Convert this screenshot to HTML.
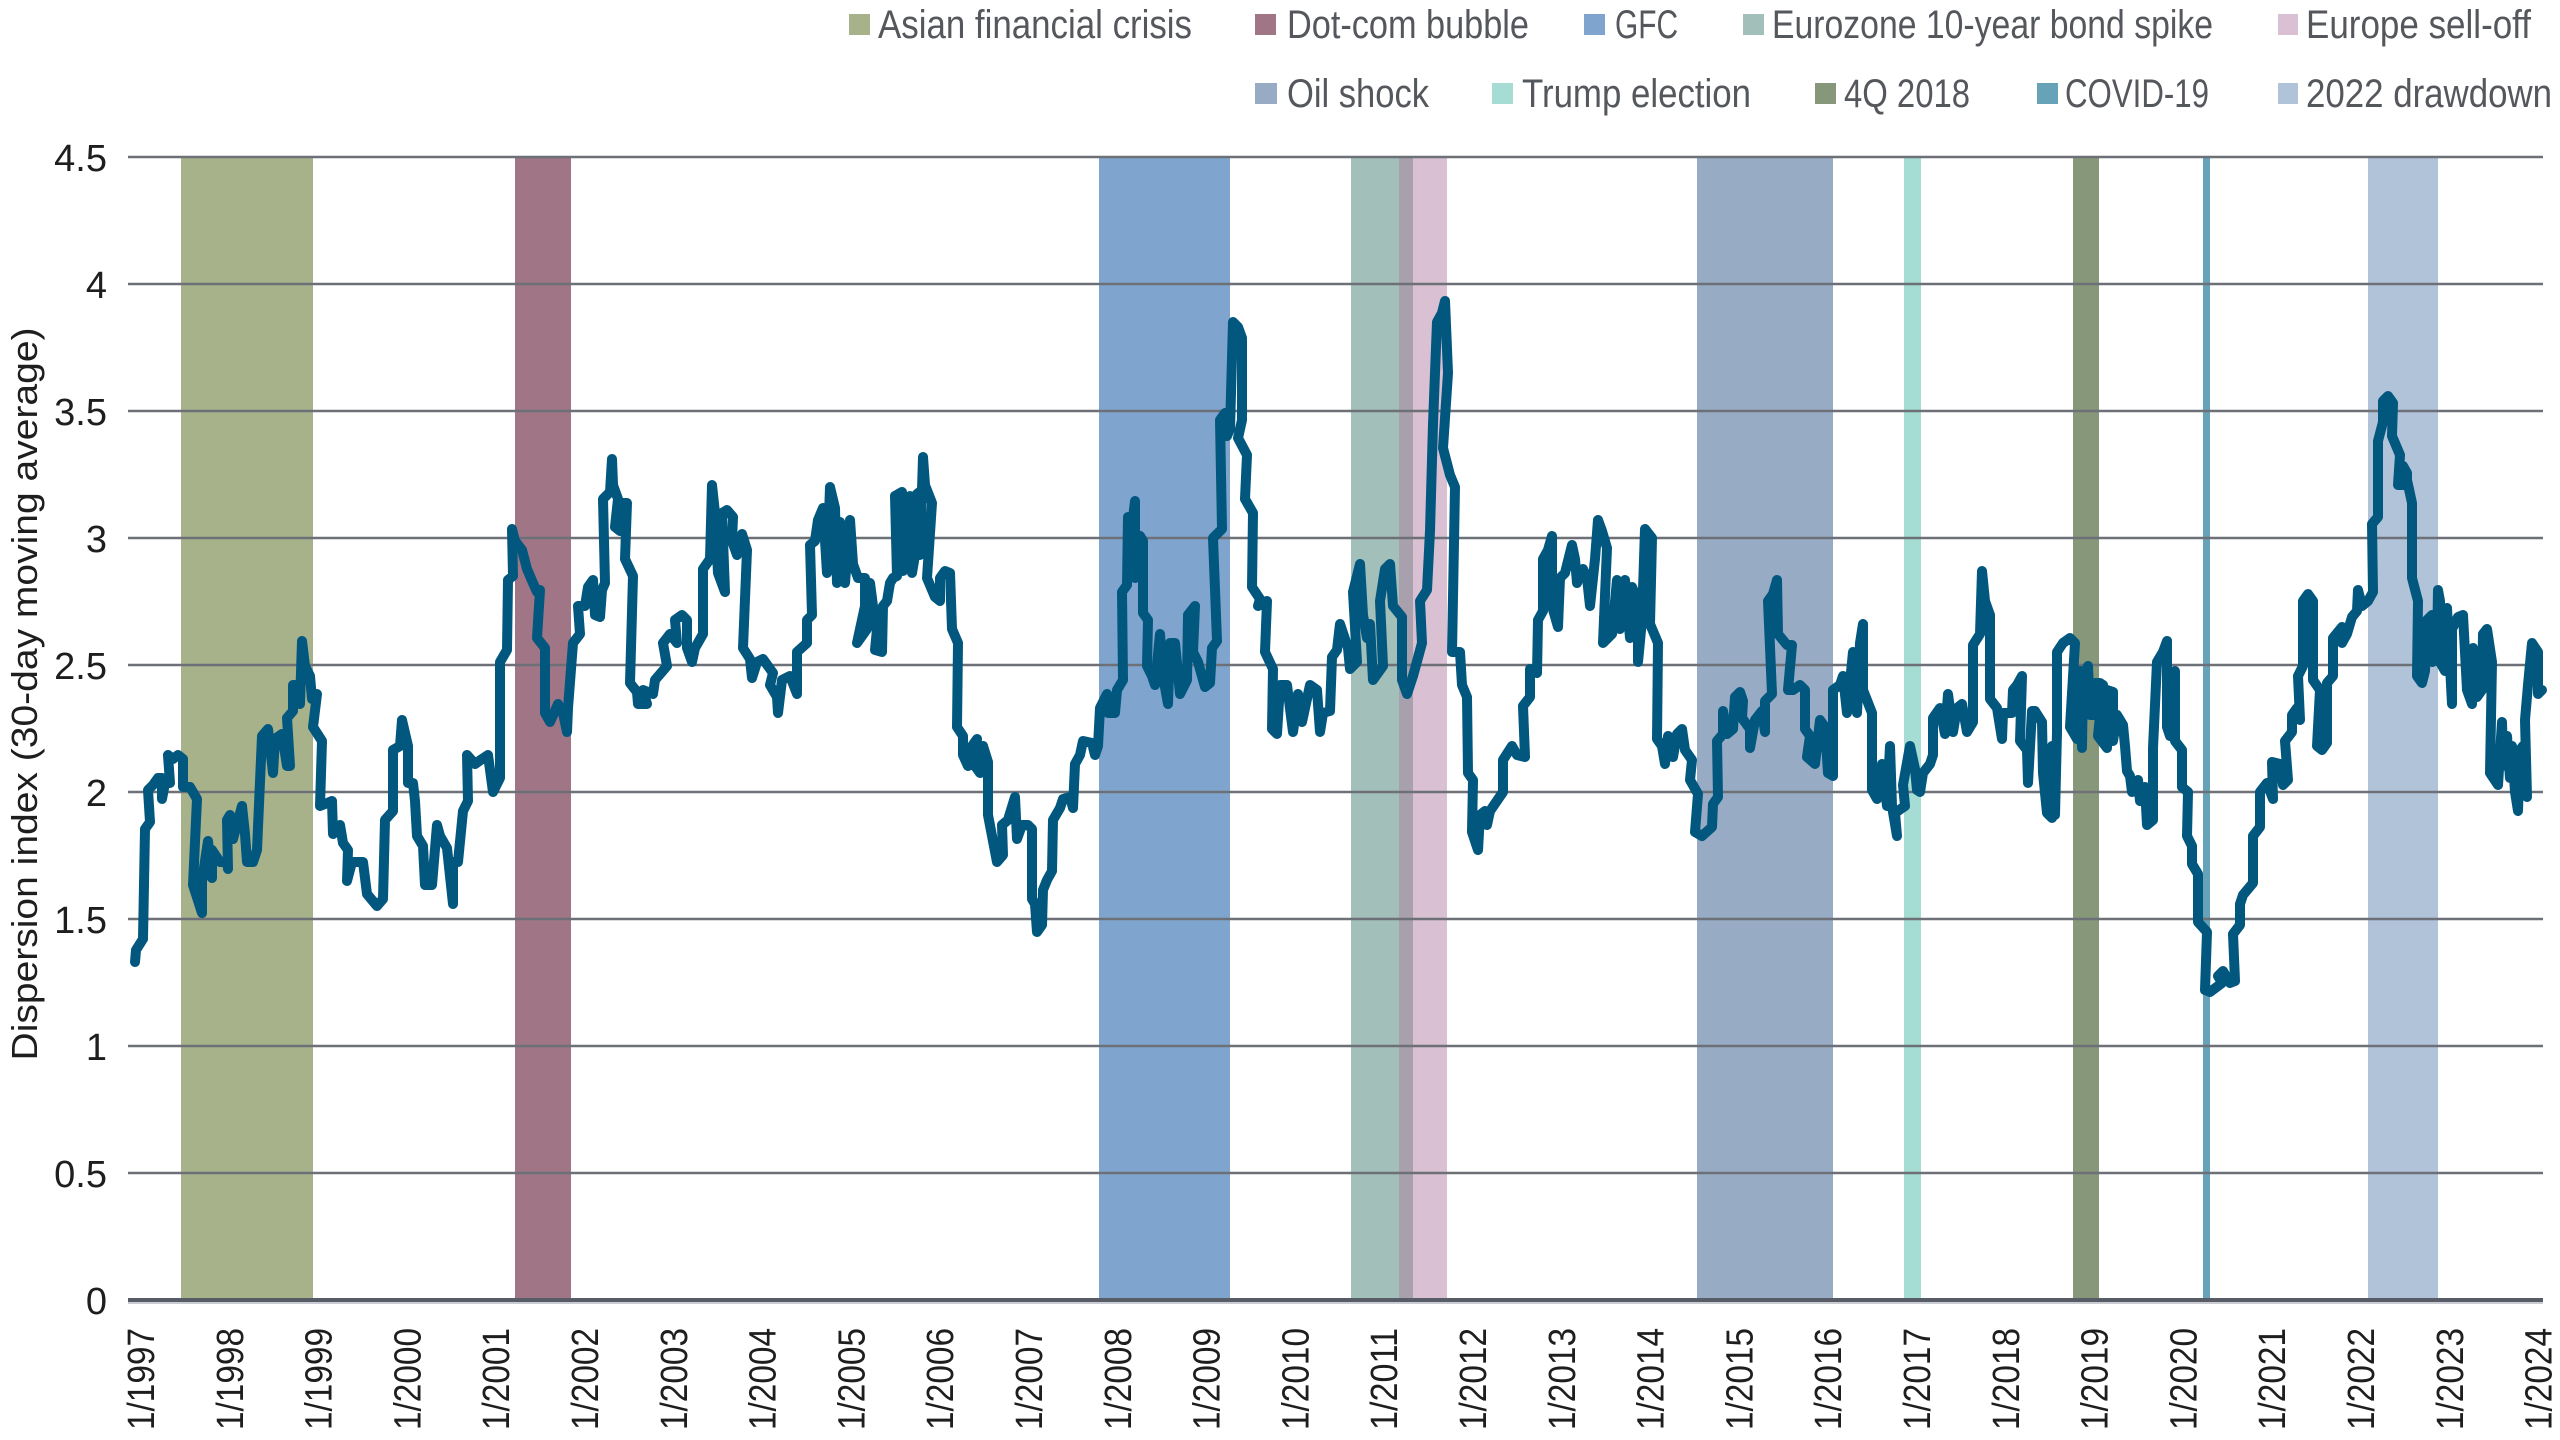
<!DOCTYPE html>
<html>
<head>
<meta charset="utf-8">
<style>
  html, body { margin: 0; padding: 0; background: #ffffff; }
  body { width: 2560px; height: 1440px; overflow: hidden; }
  svg { display: block; }
  .leg { font-family: "Liberation Sans Narrow", "Liberation Sans", sans-serif; font-size: 40px; fill: #54575c; }
  .tick { font-family: "Liberation Sans", sans-serif; font-size: 38px; fill: #1e1e1e; }
  .ttl { font-family: "Liberation Sans Narrow", "Liberation Sans", sans-serif; font-size: 36px; fill: #1e1e1e; }
</style>
</head>
<body>
<svg width="2560" height="1440" viewBox="0 0 2560 1440" xmlns="http://www.w3.org/2000/svg">
  <rect x="0" y="0" width="2560" height="1440" fill="#ffffff"/>

  <!-- Event bands -->
  <rect x="181" y="157" width="132" height="1143" fill="#a7b28b"/>
  <rect x="515" y="157" width="56" height="1143" fill="#a07686"/>
  <rect x="1099" y="157" width="131" height="1143" fill="#7fa5cf"/>
  <rect x="1351" y="157" width="48" height="1143" fill="#a2bfb9"/>
  <rect x="1399" y="157" width="14" height="1143" fill="#a8a1ad"/>
  <rect x="1413" y="157" width="34" height="1143" fill="#d9c0d3"/>
  <rect x="1697" y="157" width="136" height="1143" fill="#97abc5"/>
  <rect x="1904" y="157" width="17" height="1143" fill="#a5dcd3"/>
  <rect x="2073" y="157" width="26" height="1143" fill="#87987a"/>
  <rect x="2203" y="157" width="7" height="1143" fill="#66a3b8"/>
  <rect x="2368" y="157" width="70" height="1143" fill="#b0c3d9"/>

  <!-- Gridlines -->
  <g stroke="#6d7077" stroke-width="2.5">
    <line x1="128" y1="157" x2="2543" y2="157"/>
    <line x1="128" y1="284" x2="2543" y2="284"/>
    <line x1="128" y1="411" x2="2543" y2="411"/>
    <line x1="128" y1="538" x2="2543" y2="538"/>
    <line x1="128" y1="665" x2="2543" y2="665"/>
    <line x1="128" y1="792" x2="2543" y2="792"/>
    <line x1="128" y1="919" x2="2543" y2="919"/>
    <line x1="128" y1="1046" x2="2543" y2="1046"/>
    <line x1="128" y1="1173" x2="2543" y2="1173"/>
  </g>
  <line x1="128" y1="1303" x2="2543" y2="1303" stroke="#c9cdd3" stroke-width="2"/>
  <line x1="128" y1="1300" x2="2543" y2="1300" stroke="#575c66" stroke-width="4"/>

  <!-- Data series -->
  <polyline fill="none" stroke="#02577f" stroke-width="10" stroke-linejoin="round" stroke-linecap="round" points="
135,962 136,950 143,939 145,829 150,822 148,790 153,785 158,778 162,778 162,799 165,783 170,783 168,755 173,759 178,755 183,759 183,787 190,787 197,799 193,885 202,913 202,881 208,841 212,878 212,850 220,862 227,862 228,869 227,820 230,815 233,839 242,806 245,834 247,862 253,862 257,850 262,736 268,729 273,773 275,739 282,734 287,766 290,766 287,718 293,711 293,685 298,685 300,704 302,641 305,666 310,676 312,699 317,694 313,727 322,741 320,806 325,804 332,801 333,834 340,825 343,843 348,850 347,881 352,862 363,862 367,894 377,906 383,899 385,820 393,811 393,750 400,746 402,720 408,746 408,783 413,783 415,801 417,836 423,846 425,885 432,885 437,825 440,836 447,848 453,904 453,862 458,862 463,811 468,801 467,755 475,764 482,759 488,755 493,792 500,778 500,662 507,650 508,580 513,576 512,529 515,541 522,550 527,569 533,583 537,592 540,590 537,638 545,648 545,713 550,722 558,704 563,713 567,732 568,708 573,643 580,634 578,606 585,606 588,587 593,580 595,615 600,617 602,590 605,583 603,499 610,492 612,459
613,485 618,499 615,527 620,531 622,503 627,503 625,559 633,576 630,683 637,692 638,704 647,704 643,690 653,694 655,680 667,666 663,643 670,634 677,643 675,620 682,615 687,620 687,648 692,662 695,648 703,634 703,569 710,559 712,485 715,513 718,573 725,592 722,513 727,510 733,517 732,541 737,555 742,534 747,550 743,648 750,659 752,678 757,662 763,659 773,673 770,685 777,697 778,713 782,680 790,676 797,694 797,652 807,643 807,620 812,615 810,545 815,541 818,520 823,508 827,573 830,487 835,508 837,583 840,522 845,583 850,520 853,564 858,578 865,578 865,606 857,643 867,629 870,583 873,606 877,629 875,650 882,652 883,606 887,601 890,583 893,578 897,576 895,496 902,492 903,571 903,503 910,496 912,573 915,555 917,494 922,490 920,555 923,457 925,485 932,503 927,578 935,597 940,601 940,578 945,571 950,573 952,629 958,643 957,727 963,736 963,755 968,766 972,746 977,739 975,766 980,773 983,746 988,762 988,815 997,862 1003,855 1002,825 1008,820 1015,797 1017,839 1022,825 1028,825 1032,829 1032,899 1035,904 1037,932 1042,925 1043,890 1047,880 1052,871 1053,820 1060,808 1063,799 1070,797 1073,808 1075,764 1080,755 1083,741 1092,743
1095,755 1098,746 1100,708 1107,694 1108,713 1115,713 1117,690 1123,680 1122,592 1127,585 1128,517 1132,527 1135,501 1135,578 1140,536 1143,541 1143,613 1148,620 1147,666 1152,676 1155,685 1160,634 1163,676 1168,704 1170,643 1175,643 1180,694 1187,680 1188,615 1195,606 1193,652 1198,662 1205,687 1210,683 1212,648 1217,641 1213,538 1222,529 1220,420 1225,413 1227,436 1230,429 1233,322 1238,327 1242,338 1242,420 1238,438 1247,455 1245,499 1253,513 1252,587 1260,599 1258,606 1267,601 1265,652 1273,669 1272,729 1277,734 1280,685 1287,685 1293,732 1298,694 1302,722 1310,685 1317,690 1320,732 1323,713 1330,711 1332,657 1337,650 1340,624 1348,648 1350,669 1357,662 1353,592 1360,564 1363,615 1367,638 1370,624 1373,680 1383,666 1380,601 1385,569 1390,564 1393,606 1402,617 1402,680 1407,694 1413,676 1422,643 1420,601 1427,590 1430,531 1433,424 1437,322 1442,313 1445,301 1448,373 1443,448 1450,475 1455,487 1452,652 1460,652 1462,685 1467,697 1468,773 1473,780 1472,832 1478,850 1480,815 1485,811 1487,825 1490,811 1503,792 1503,760 1512,746 1517,755 1525,757 1523,706 1530,697 1530,669 1537,673 1538,620 1543,611 1543,559 1548,550 1552,536 1552,606 1558,627 1560,578 1565,573 1572,545
1575,559 1577,583 1583,569 1587,578 1590,606 1595,559 1598,520 1602,531 1607,548 1603,643 1612,634 1617,580 1620,629 1625,580 1630,638 1632,587 1638,601 1638,662 1642,620 1645,529 1652,538 1650,624 1658,643 1657,739 1662,746 1665,764 1668,736 1673,757 1677,734 1682,729 1685,750 1692,760 1690,780 1698,794 1695,832 1702,836 1712,827 1713,804 1718,797 1717,741 1723,734 1723,711 1727,734 1733,729 1735,697 1740,692 1743,701 1742,718 1750,729 1750,748 1755,720 1762,711 1765,732 1765,701 1772,694 1768,601 1773,594 1777,580 1778,634 1787,645 1792,645 1788,690 1793,690 1800,685 1805,690 1805,729 1810,736 1807,757 1815,764 1820,720 1825,727 1828,773 1833,776 1833,690 1840,685 1843,676 1847,713 1853,652 1857,713 1860,643 1863,624 1863,690 1872,713 1872,790 1877,799 1882,764 1887,806 1890,746 1892,806 1897,836 1895,813 1905,806 1903,785 1910,746 1915,769 1917,790 1920,792 1923,773 1930,764 1933,755 1933,718 1940,708 1945,734 1948,694 1953,732 1957,708 1962,704 1967,732 1973,722 1973,645 1980,634 1982,571 1985,601 1990,615 1990,699 1997,708 2002,739 2003,713 2012,713 2013,690 2017,685 2022,676 2020,741 2027,750 2028,783 2032,711 2035,711 2042,722 2043,773 2047,813 2052,818 2052,746
2055,815 2057,732 2057,652 2063,643 2070,638 2075,643 2070,727 2077,739 2080,671 2082,748 2083,676 2088,666 2090,715 2093,715 2095,683 2100,683 2103,685 2098,736 2107,748 2107,690 2113,692 2113,741 2117,715 2123,725 2125,746 2127,771 2130,776 2132,792 2138,780 2140,801 2145,787 2147,825 2153,820 2153,748 2157,662 2163,652 2167,641 2167,727 2170,736 2175,671 2175,741 2182,750 2182,787 2188,792 2187,836 2192,846 2192,864 2198,874 2198,922 2207,932 2205,990 2210,992 2222,983 2218,976 2223,971 2230,983 2235,981 2233,934 2240,925 2240,904 2243,895 2253,883 2253,836 2260,827 2260,792 2267,783 2273,799 2272,762 2280,764 2283,785 2288,780 2285,741 2292,732 2292,715 2297,708 2300,720 2298,676 2303,666 2303,601 2308,594 2313,601 2313,680 2320,690 2317,746 2322,750 2327,743 2327,683 2333,676 2333,638 2342,627 2342,643 2347,634 2352,617 2357,611 2358,590 2362,606 2368,601 2373,592 2372,524 2378,517 2378,441 2383,422 2383,401 2388,396 2393,403 2392,436 2400,455 2398,485 2403,485 2403,466 2407,473 2407,480 2412,503 2412,578 2418,601 2417,676 2422,683 2425,671 2427,620 2432,615 2432,662 2437,652 2438,590 2440,601 2440,662 2445,671 2443,611 2447,608 2452,704 2452,629 2458,617 2463,615 2467,690 2472,704 2473,648 2478,666 2477,697 2482,690 2483,634 2487,629 2492,662 2490,773 2498,785 2502,722 2503,766 2507,736 2510,778 2512,746 2515,792 2518,811 2520,750 2523,746 2527,797 2525,720 2528,685 2532,643 2538,652 2538,694 2542,690"/>

  <!-- Y tick labels -->
  <g class="tick" text-anchor="end">
    <text x="107" y="171">4.5</text>
    <text x="107" y="298">4</text>
    <text x="107" y="425">3.5</text>
    <text x="107" y="552">3</text>
    <text x="107" y="679">2.5</text>
    <text x="107" y="806">2</text>
    <text x="107" y="933">1.5</text>
    <text x="107" y="1060">1</text>
    <text x="107" y="1187">0.5</text>
    <text x="107" y="1314">0</text>
  </g>

  <!-- Y axis title -->
  <text class="ttl" text-anchor="middle" transform="translate(37,694) rotate(-90)" textLength="733" lengthAdjust="spacingAndGlyphs">Dispersion index (30-day moving average)</text>

  <!-- X tick labels -->
  <g class="tick" text-anchor="end">
    <text transform="translate(154,1328) rotate(-90)" textLength="102" lengthAdjust="spacingAndGlyphs">1/1997</text>
    <text transform="translate(242.8,1328) rotate(-90)" textLength="102" lengthAdjust="spacingAndGlyphs">1/1998</text>
    <text transform="translate(331.6,1328) rotate(-90)" textLength="102" lengthAdjust="spacingAndGlyphs">1/1999</text>
    <text transform="translate(420.4,1328) rotate(-90)" textLength="102" lengthAdjust="spacingAndGlyphs">1/2000</text>
    <text transform="translate(509.2,1328) rotate(-90)" textLength="102" lengthAdjust="spacingAndGlyphs">1/2001</text>
    <text transform="translate(598,1328) rotate(-90)" textLength="102" lengthAdjust="spacingAndGlyphs">1/2002</text>
    <text transform="translate(686.8,1328) rotate(-90)" textLength="102" lengthAdjust="spacingAndGlyphs">1/2003</text>
    <text transform="translate(775.6,1328) rotate(-90)" textLength="102" lengthAdjust="spacingAndGlyphs">1/2004</text>
    <text transform="translate(864.4,1328) rotate(-90)" textLength="102" lengthAdjust="spacingAndGlyphs">1/2005</text>
    <text transform="translate(953.2,1328) rotate(-90)" textLength="102" lengthAdjust="spacingAndGlyphs">1/2006</text>
    <text transform="translate(1042,1328) rotate(-90)" textLength="102" lengthAdjust="spacingAndGlyphs">1/2007</text>
    <text transform="translate(1130.8,1328) rotate(-90)" textLength="102" lengthAdjust="spacingAndGlyphs">1/2008</text>
    <text transform="translate(1219.6,1328) rotate(-90)" textLength="102" lengthAdjust="spacingAndGlyphs">1/2009</text>
    <text transform="translate(1308.4,1328) rotate(-90)" textLength="102" lengthAdjust="spacingAndGlyphs">1/2010</text>
    <text transform="translate(1397.2,1328) rotate(-90)" textLength="102" lengthAdjust="spacingAndGlyphs">1/2011</text>
    <text transform="translate(1486,1328) rotate(-90)" textLength="102" lengthAdjust="spacingAndGlyphs">1/2012</text>
    <text transform="translate(1574.8,1328) rotate(-90)" textLength="102" lengthAdjust="spacingAndGlyphs">1/2013</text>
    <text transform="translate(1663.6,1328) rotate(-90)" textLength="102" lengthAdjust="spacingAndGlyphs">1/2014</text>
    <text transform="translate(1752.4,1328) rotate(-90)" textLength="102" lengthAdjust="spacingAndGlyphs">1/2015</text>
    <text transform="translate(1841.2,1328) rotate(-90)" textLength="102" lengthAdjust="spacingAndGlyphs">1/2016</text>
    <text transform="translate(1930,1328) rotate(-90)" textLength="102" lengthAdjust="spacingAndGlyphs">1/2017</text>
    <text transform="translate(2018.8,1328) rotate(-90)" textLength="102" lengthAdjust="spacingAndGlyphs">1/2018</text>
    <text transform="translate(2107.6,1328) rotate(-90)" textLength="102" lengthAdjust="spacingAndGlyphs">1/2019</text>
    <text transform="translate(2196.4,1328) rotate(-90)" textLength="102" lengthAdjust="spacingAndGlyphs">1/2020</text>
    <text transform="translate(2285.2,1328) rotate(-90)" textLength="102" lengthAdjust="spacingAndGlyphs">1/2021</text>
    <text transform="translate(2374,1328) rotate(-90)" textLength="102" lengthAdjust="spacingAndGlyphs">1/2022</text>
    <text transform="translate(2462.8,1328) rotate(-90)" textLength="102" lengthAdjust="spacingAndGlyphs">1/2023</text>
    <text transform="translate(2551.6,1328) rotate(-90)" textLength="102" lengthAdjust="spacingAndGlyphs">1/2024</text>
  </g>

  <!-- Legend row 1 -->
  <rect x="849" y="14" width="21" height="21" fill="#a7b28b"/>
  <text class="leg" x="878" y="38" textLength="314" lengthAdjust="spacingAndGlyphs">Asian financial crisis</text>
  <rect x="1255" y="14" width="21" height="21" fill="#a07686"/>
  <text class="leg" x="1287" y="38" textLength="242" lengthAdjust="spacingAndGlyphs">Dot-com bubble</text>
  <rect x="1584" y="14" width="21" height="21" fill="#7fa5cf"/>
  <text class="leg" x="1615" y="38" textLength="63" lengthAdjust="spacingAndGlyphs">GFC</text>
  <rect x="1743" y="14" width="21" height="21" fill="#a2bfb9"/>
  <text class="leg" x="1772" y="38" textLength="441" lengthAdjust="spacingAndGlyphs">Eurozone 10-year bond spike</text>
  <rect x="2278" y="14" width="20" height="21" fill="#d9c0d3"/>
  <text class="leg" x="2306" y="38" textLength="225" lengthAdjust="spacingAndGlyphs">Europe sell-off</text>

  <!-- Legend row 2 -->
  <rect x="1255" y="83" width="22" height="21" fill="#97abc5"/>
  <text class="leg" x="1287" y="107" textLength="142" lengthAdjust="spacingAndGlyphs">Oil shock</text>
  <rect x="1492" y="83" width="21" height="21" fill="#a5dcd3"/>
  <text class="leg" x="1522" y="107" textLength="229" lengthAdjust="spacingAndGlyphs">Trump election</text>
  <rect x="1815" y="83" width="21" height="21" fill="#87987a"/>
  <text class="leg" x="1844" y="107" textLength="126" lengthAdjust="spacingAndGlyphs">4Q 2018</text>
  <rect x="2037" y="83" width="21" height="21" fill="#66a3b8"/>
  <text class="leg" x="2065" y="107" textLength="144" lengthAdjust="spacingAndGlyphs">COVID-19</text>
  <rect x="2278" y="83" width="20" height="21" fill="#b0c3d9"/>
  <text class="leg" x="2306" y="107" textLength="246" lengthAdjust="spacingAndGlyphs">2022 drawdown</text>
</svg>
</body>
</html>
